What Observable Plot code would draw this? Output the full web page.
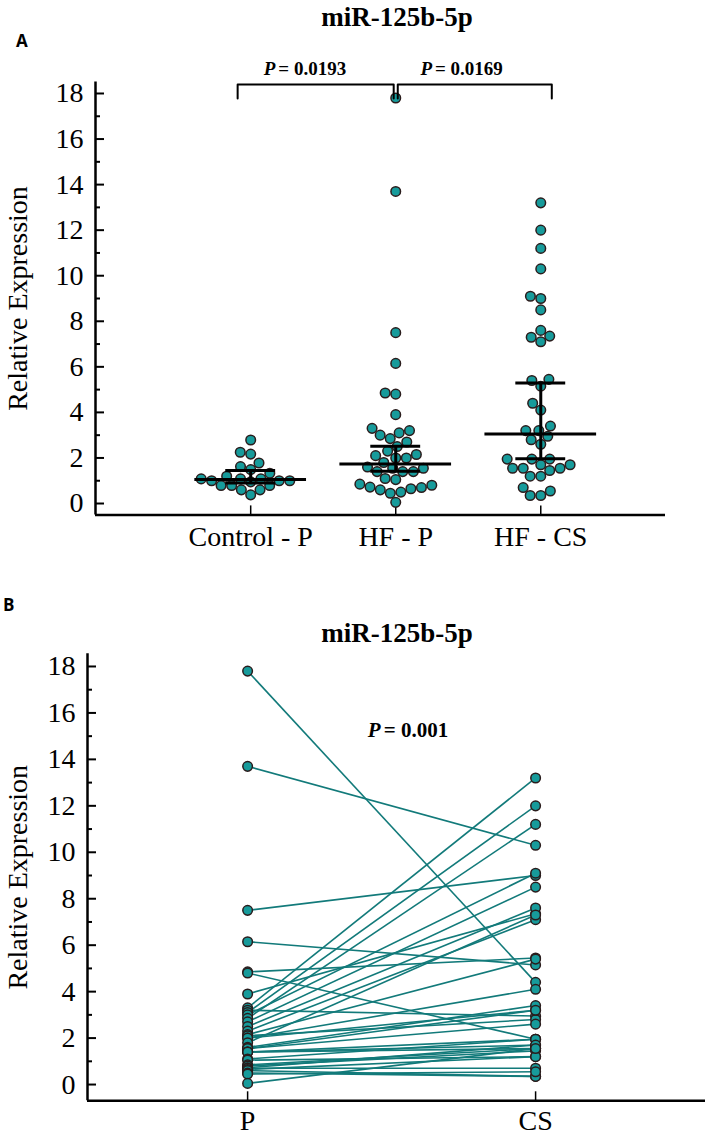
<!DOCTYPE html>
<html><head><meta charset="utf-8">
<script src="https://cdn.jsdelivr.net/npm/d3@7"></script>
<script src="https://cdn.jsdelivr.net/npm/@observablehq/plot@0.6"></script>
<style>
body{margin:0;background:#fff;}
#fig{position:relative;width:709px;height:1137px;overflow:hidden;font-family:"Liberation Serif","Times New Roman",serif;color:#000;}
.panel{position:absolute;left:0;}
.letter{position:absolute;font-family:"Open Sans","DejaVu Sans",sans-serif;font-weight:700;font-size:17px;line-height:22px;}
.title{position:absolute;width:300px;text-align:center;font-weight:700;font-size:27px;line-height:32px;}
</style></head>
<body>
<div id="fig">
  <div class="letter" style="left:16px;top:30px;">A</div>
  <div class="title" style="left:247px;top:1px;">miR-125b-5p</div>
  <div class="panel" id="pa" style="top:0px;"></div>
  <div class="letter" style="left:3px;top:594px;">B</div>
  <div class="title" style="left:247px;top:617px;">miR-125b-5p</div>
  <div class="panel" id="pb" style="top:600px;"></div>
</div>
<script>
// ---------- data ----------
const groupsA = ["Control - P", "HF - P", "HF - CS"];
const controlP = [2.79, 2.25, 2.17, 1.78, 1.62, 1.49, 1.33, 1.2, 1.08, 1.08, 1.08, 1.0, 1.0, 1.0, 0.95, 0.79, 0.79, 0.79, 0.6, 0.6, 0.38];
// paired samples (same order in both arrays)
const hfP  = [17.8, 13.7, 7.5, 6.15, 4.85, 4.8, 3.9, 3.3, 3.2, 3.1, 3.0, 2.85, 2.7, 2.5, 2.3, 2.15, 2.1, 2.0, 2.0, 1.8, 1.6, 1.55, 1.55, 1.4, 1.4, 1.4, 1.1, 1.05, 0.85, 0.8, 0.72, 0.7, 0.65, 0.6, 0.5, 0.45, 0.05];
const hfCS = [4.4, 10.3, 9.0, 5.15, 5.45, 1.95, 7.35, 13.2, 2.95, 12.0, 9.1, 11.2, 8.5, 7.6, 7.1, 5.4, 2.8, 4.1, 3.2, 7.3, 3.4, 2.6, 3.2, 1.95, 1.7, 1.55, 1.95, 1.2, 1.55, 1.45, 1.7, 0.7, 1.2, 0.35, 0.35, 0.55, 1.55];
const medianA = [1.05, 1.74, 3.05];
const q1A = [0.9, 1.42, 1.96];
const q3A = [1.45, 2.51, 5.29];
const bracketFrom = [0, 1];
const bracketTo = [1, 2];
const bracketP = ["0.0193", "0.0169"];
const groupsB = ["P", "CS"];
const pValueB = "0.001";
const yTicks = [0, 2, 4, 6, 8, 10, 12, 14, 16, 18];
const yMinorTicks = [1, 3, 5, 7, 9, 11, 13, 15, 17];
const yLabel = "Relative Expression";

// ---------- styling ----------
const FILL = "#179b9b", DOTSTROKE = "#2a1c1c", LINE = "#127a7a";
const FONT = "Liberation Serif, Times New Roman, serif";
const FS = 28;

// ---------- panel A ----------
const A = {width: 709, height: 560, ml: 95, mr: 44, mt: 81.6, mb: 45.6, xd: [-1.07, 2.86], yd: [-0.5, 18.5]};
const kxA = (A.width - A.ml - A.mr) / (A.xd[1] - A.xd[0]);
const kyA = (A.height - A.mt - A.mb) / (A.yd[1] - A.yd[0]);

function swarm(values, gi, kx, ky, r) {
  const pts = values.map(v => ({v, py: v * ky})).sort((a, b) => a.v - b.v);
  const placed = [];
  const D = 2 * r + 1;
  for (const p of pts) {
    const near = placed.filter(q => Math.abs(q.py - p.py) < D);
    const cands = [0];
    for (const q of near) {
      const w = Math.sqrt(D * D - (q.py - p.py) ** 2);
      cands.push(q.px - w, q.px + w);
    }
    cands.sort((a, b) => Math.abs(a) - Math.abs(b) || a - b);
    for (const c of cands) {
      if (near.every(q => (q.px - c) ** 2 + (q.py - p.py) ** 2 >= D * D - 1e-6)) { p.px = c; break; }
    }
    placed.push(p);
  }
  return placed.map(p => ({g: gi, value: p.v, x: gi + p.px / kx}));
}
const R = 4.8;
const swarmData = [controlP, hfP, hfCS].flatMap((vals, i) => swarm(vals, i, kxA, kyA, R));
const summary = groupsA.map((g, i) => ({i, med: medianA[i], q1: q1A[i], q3: q3A[i]}));
const bracketTop = 18.4, bracketBot = 17.78;
const brackets = bracketFrom.flatMap((f, k) => {
  const t = bracketTo[k];
  const x1 = f + (f === 0 ? -0.09 : 0.014);
  const x2 = t + (t === groupsA.length - 1 ? 0.076 : -0.014);
  return [{k, x: x1, y: bracketBot}, {k, x: x1, y: bracketTop}, {k, x: x2, y: bracketTop}, {k, x: x2, y: bracketBot}];
});
const bracketText = bracketFrom.map((f, k) => ({x: (f + bracketTo[k]) / 2 - 0.29 + (k === 0 ? -0.04 : 0.04), p: bracketP[k]}));

const plotA = Plot.plot({
  width: A.width, height: A.height,
  marginLeft: A.ml, marginRight: A.mr, marginTop: A.mt, marginBottom: A.mb,
  x: {domain: A.xd, axis: null},
  y: {domain: A.yd, axis: null},
  style: {fontFamily: FONT, fontSize: FS + "px", background: "transparent", overflow: "visible"},
  marks: [
    Plot.ruleX([A.xd[0]], {strokeWidth: 2.5}),
    Plot.ruleY([A.yd[0]], {strokeWidth: 2.5}),
    Plot.axisY(yTicks, {tickSize: -9, tickPadding: 21, strokeWidth: 2, fontSize: FS, label: null}),
    Plot.axisY(yMinorTicks, {tickSize: -5, strokeWidth: 2, tickFormat: () => "", label: null}),
    Plot.axisX([0, 1, 2], {tickSize: -9, tickPadding: 20, strokeWidth: 1.5, fontSize: FS, tickFormat: i => groupsA[i], label: null}),
    Plot.text([yLabel], {frameAnchor: "left", textAnchor: "middle", rotate: -90, dx: -77, fontSize: FS}),
    Plot.dot(swarmData, {x: "x", y: "value", r: R, fill: FILL, stroke: DOTSTROKE, strokeWidth: 1.5}),
    Plot.ruleY(summary, {y: "med", x1: d => d.i - 0.385, x2: d => d.i + 0.385, strokeWidth: 3}),
    Plot.ruleY(summary, {y: "q1", x1: d => d.i - 0.172, x2: d => d.i + 0.172, strokeWidth: 3}),
    Plot.ruleY(summary, {y: "q3", x1: d => d.i - 0.172, x2: d => d.i + 0.172, strokeWidth: 3}),
    Plot.ruleX(summary, {x: "i", y1: "q1", y2: "q3", strokeWidth: 3}),
    Plot.line(brackets, {x: "x", y: "y", z: "k", stroke: "black", strokeWidth: 2, curve: "linear"}),
    Plot.text(bracketText, {x: "x", y: 19.1, text: () => "P", textAnchor: "end", fontStyle: "italic", fontWeight: "bold", fontSize: 19}),
    Plot.text(bracketText, {x: "x", y: 19.1, text: d => "= " + d.p, textAnchor: "start", dx: 3, fontWeight: "bold", fontSize: 19})
  ]
});
document.getElementById("pa").appendChild(plotA);

// ---------- panel B ----------
const B = {width: 709, height: 537, ml: 87, mr: 4, mt: 53.2, mb: 36.7, xd: [-0.556, 1.59], yd: [-0.7, 18.55]};
const pairs = hfP.map((p, i) => ({p, cs: hfCS[i]}));
const dotsB = [...hfP.map(v => ({x: 0, v})), ...hfCS.map(v => ({x: 1, v}))];
const pTextX = 0.462, pTextY = 15.25;

const plotB = Plot.plot({
  width: B.width, height: B.height,
  marginLeft: B.ml, marginRight: B.mr, marginTop: B.mt, marginBottom: B.mb,
  x: {domain: B.xd, axis: null},
  y: {domain: B.yd, axis: null},
  style: {fontFamily: FONT, fontSize: FS + "px", background: "transparent", overflow: "visible"},
  marks: [
    Plot.ruleX([B.xd[0]], {strokeWidth: 2.5}),
    Plot.ruleY([B.yd[0]], {strokeWidth: 2.5}),
    Plot.axisY(yTicks, {tickSize: -9, tickPadding: 21, strokeWidth: 2, fontSize: FS, label: null}),
    Plot.axisY(yMinorTicks, {tickSize: -5, strokeWidth: 2, tickFormat: () => "", label: null}),
    Plot.axisX([0, 1], {tickSize: -9, tickPadding: 18, strokeWidth: 1.5, fontSize: FS, tickFormat: i => groupsB[i], label: null}),
    Plot.text([yLabel], {frameAnchor: "left", textAnchor: "middle", rotate: -90, dx: -69, fontSize: FS}),
    Plot.link(pairs, {x1: 0, x2: 1, y1: "p", y2: "cs", stroke: LINE, strokeWidth: 1.6}),
    Plot.dot(dotsB, {x: "x", y: "v", r: R, fill: FILL, stroke: DOTSTROKE, strokeWidth: 1.5}),
    Plot.text([pValueB], {x: pTextX, y: pTextY, text: () => "P", textAnchor: "end", fontStyle: "italic", fontWeight: "bold", fontSize: 21}),
    Plot.text([pValueB], {x: pTextX, y: pTextY, text: d => "= " + d, textAnchor: "start", dx: 3, fontWeight: "bold", fontSize: 21})
  ]
});
document.getElementById("pb").appendChild(plotB);
</script>
</body></html>
